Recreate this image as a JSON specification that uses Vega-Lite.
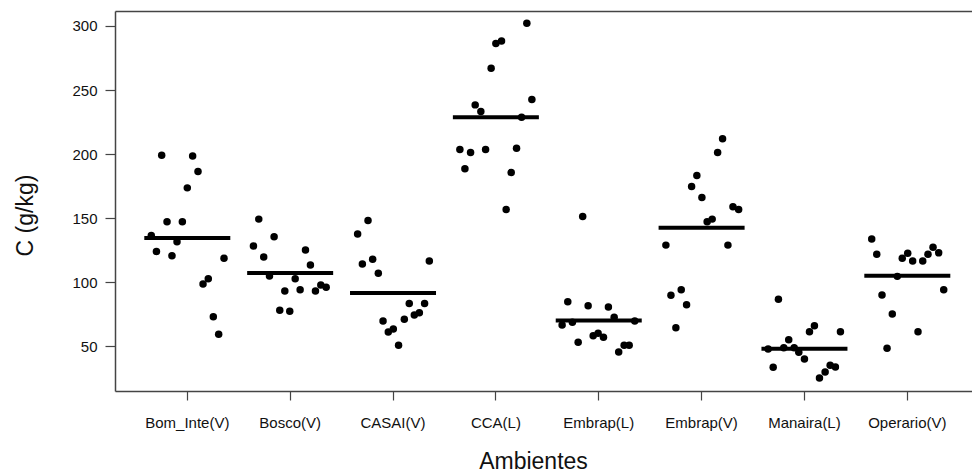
{
  "$schema": "https://vega.github.io/schema/vega-lite/v6.json",
  "autosize": {"type": "none"},
  "padding": {"left": 115, "top": 11, "right": 0, "bottom": 84},
  "width": 857,
  "height": 380,
  "background": "white",
  "config": {
    "font": "Liberation Sans",
    "view": {"stroke": null},
    "axis": {"grid": false, "domainColor": "#444", "domainWidth": 1.5, "tickColor": "#444", "tickWidth": 1.2, "labelColor": "#111", "titleColor": "#111", "titleFontWeight": "normal", "labelFontSize": 15, "titleFontSize": 23, "labelFont": "Liberation Sans", "titleFont": "Liberation Sans"}
  },
  "data": {"values": [
    {"g":"Bom_Inte(V)","v":199.1,"j":-0.249},{"g":"Bom_Inte(V)","v":198.4,"j":0.052},{"g":"Bom_Inte(V)","v":186.4,"j":0.104},{"g":"Bom_Inte(V)","v":173.6,"j":0.0},{"g":"Bom_Inte(V)","v":147.1,"j":-0.197},{"g":"Bom_Inte(V)","v":147.1,"j":-0.048},{"g":"Bom_Inte(V)","v":136.5,"j":-0.35},{"g":"Bom_Inte(V)","v":131.5,"j":-0.10},{"g":"Bom_Inte(V)","v":124.0,"j":-0.30},{"g":"Bom_Inte(V)","v":120.6,"j":-0.149},{"g":"Bom_Inte(V)","v":118.6,"j":0.357},{"g":"Bom_Inte(V)","v":102.7,"j":0.204},{"g":"Bom_Inte(V)","v":98.5,"j":0.153},{"g":"Bom_Inte(V)","v":73.0,"j":0.253},{"g":"Bom_Inte(V)","v":59.3,"j":0.305},
    {"g":"Bosco(V)","v":149.2,"j":-0.305},{"g":"Bosco(V)","v":135.4,"j":-0.156},{"g":"Bosco(V)","v":128.2,"j":-0.357},{"g":"Bosco(V)","v":125.0,"j":0.149},{"g":"Bosco(V)","v":119.6,"j":-0.257},{"g":"Bosco(V)","v":113.3,"j":0.197},{"g":"Bosco(V)","v":104.8,"j":-0.201},{"g":"Bosco(V)","v":102.7,"j":0.049},{"g":"Bosco(V)","v":97.8,"j":0.298},{"g":"Bosco(V)","v":96.0,"j":0.35},{"g":"Bosco(V)","v":93.1,"j":-0.052},{"g":"Bosco(V)","v":94.1,"j":0.097},{"g":"Bosco(V)","v":93.1,"j":0.246},{"g":"Bosco(V)","v":78.0,"j":-0.101},{"g":"Bosco(V)","v":77.2,"j":-0.004},
    {"g":"CASAI(V)","v":148.2,"j":-0.243},{"g":"CASAI(V)","v":137.5,"j":-0.344},{"g":"CASAI(V)","v":117.8,"j":-0.198},{"g":"CASAI(V)","v":114.1,"j":-0.298},{"g":"CASAI(V)","v":116.5,"j":0.353},{"g":"CASAI(V)","v":106.9,"j":-0.143},{"g":"CASAI(V)","v":83.4,"j":0.158},{"g":"CASAI(V)","v":83.4,"j":0.307},{"g":"CASAI(V)","v":76.1,"j":0.256},{"g":"CASAI(V)","v":74.3,"j":0.207},{"g":"CASAI(V)","v":71.0,"j":0.110},{"g":"CASAI(V)","v":69.7,"j":-0.097},{"g":"CASAI(V)","v":63.4,"j":0.003},{"g":"CASAI(V)","v":61.1,"j":-0.046},{"g":"CASAI(V)","v":50.7,"j":0.054},
    {"g":"CCA(L)","v":302.1,"j":0.301},{"g":"CCA(L)","v":286.3,"j":0.0},{"g":"CCA(L)","v":288.3,"j":0.055},{"g":"CCA(L)","v":267.0,"j":-0.046},{"g":"CCA(L)","v":242.6,"j":0.35},{"g":"CCA(L)","v":238.4,"j":-0.201},{"g":"CCA(L)","v":233.2,"j":-0.146},{"g":"CCA(L)","v":228.8,"j":0.25},{"g":"CCA(L)","v":203.6,"j":-0.35},{"g":"CCA(L)","v":201.2,"j":-0.246},{"g":"CCA(L)","v":203.6,"j":-0.10},{"g":"CCA(L)","v":204.6,"j":0.201},{"g":"CCA(L)","v":188.5,"j":-0.301},{"g":"CCA(L)","v":185.6,"j":0.149},{"g":"CCA(L)","v":156.8,"j":0.10},
    {"g":"Embrap(L)","v":151.3,"j":-0.156},{"g":"Embrap(L)","v":84.7,"j":-0.301},{"g":"Embrap(L)","v":81.6,"j":-0.103},{"g":"Embrap(L)","v":80.6,"j":0.094},{"g":"Embrap(L)","v":72.5,"j":0.15},{"g":"Embrap(L)","v":66.5,"j":-0.356},{"g":"Embrap(L)","v":68.6,"j":-0.256},{"g":"Embrap(L)","v":69.7,"j":0.35},{"g":"Embrap(L)","v":58.2,"j":-0.054},{"g":"Embrap(L)","v":60.1,"j":-0.006},{"g":"Embrap(L)","v":57.0,"j":0.046},{"g":"Embrap(L)","v":53.0,"j":-0.2},{"g":"Embrap(L)","v":50.7,"j":0.247},{"g":"Embrap(L)","v":50.7,"j":0.296},{"g":"Embrap(L)","v":45.5,"j":0.194},
    {"g":"Embrap(V)","v":211.9,"j":0.204},{"g":"Embrap(V)","v":201.2,"j":0.156},{"g":"Embrap(V)","v":183.3,"j":-0.046},{"g":"Embrap(V)","v":174.7,"j":-0.097},{"g":"Embrap(V)","v":166.1,"j":0.003},{"g":"Embrap(V)","v":158.8,"j":0.305},{"g":"Embrap(V)","v":156.8,"j":0.36},{"g":"Embrap(V)","v":149.2,"j":0.103},{"g":"Embrap(V)","v":147.1,"j":0.054},{"g":"Embrap(V)","v":128.9,"j":-0.347},{"g":"Embrap(V)","v":128.9,"j":0.256},{"g":"Embrap(V)","v":94.1,"j":-0.198},{"g":"Embrap(V)","v":89.7,"j":-0.298},{"g":"Embrap(V)","v":82.4,"j":-0.146},{"g":"Embrap(V)","v":64.4,"j":-0.25},
    {"g":"Manaira(L)","v":86.6,"j":-0.253},{"g":"Manaira(L)","v":66.0,"j":0.097},{"g":"Manaira(L)","v":61.3,"j":0.049},{"g":"Manaira(L)","v":61.3,"j":0.35},{"g":"Manaira(L)","v":55.1,"j":-0.153},{"g":"Manaira(L)","v":48.8,"j":-0.201},{"g":"Manaira(L)","v":47.8,"j":-0.353},{"g":"Manaira(L)","v":48.8,"j":-0.10},{"g":"Manaira(L)","v":45.2,"j":-0.055},{"g":"Manaira(L)","v":40.0,"j":0.0},{"g":"Manaira(L)","v":33.5,"j":-0.304},{"g":"Manaira(L)","v":35.1,"j":0.25},{"g":"Manaira(L)","v":33.8,"j":0.301},{"g":"Manaira(L)","v":29.9,"j":0.201},{"g":"Manaira(L)","v":25.2,"j":0.146},
    {"g":"Operario(V)","v":133.6,"j":-0.346},{"g":"Operario(V)","v":121.7,"j":-0.297},{"g":"Operario(V)","v":122.5,"j":0.004},{"g":"Operario(V)","v":118.6,"j":-0.049},{"g":"Operario(V)","v":116.5,"j":0.052},{"g":"Operario(V)","v":116.5,"j":0.15},{"g":"Operario(V)","v":121.7,"j":0.201},{"g":"Operario(V)","v":127.2,"j":0.25},{"g":"Operario(V)","v":122.9,"j":0.305},{"g":"Operario(V)","v":104.5,"j":-0.097},{"g":"Operario(V)","v":94.1,"j":0.354},{"g":"Operario(V)","v":90.0,"j":-0.246},{"g":"Operario(V)","v":75.1,"j":-0.146},{"g":"Operario(V)","v":61.3,"j":0.104},{"g":"Operario(V)","v":48.4,"j":-0.197}
  ]},
  "layer": [
    {
      "mark": {"type": "circle", "size": 56, "color": "black", "opacity": 1},
      "encoding": {
        "x": {"field": "g", "type": "nominal", "sort": null,
          "scale": {"paddingInner": 0, "paddingOuter": 0.1659, "align": 0.6115},
          "axis": {"orient": "bottom", "labelAngle": 0, "tickSize": 9, "labelPadding": 15, "labelFontSize": 15, "titleFontSize": 23, "title": "Ambientes", "titleX": 418, "titleY": 77, "titleBaseline": "alphabetic", "titleAnchor": null, "titleAlign": "center"}},
        "xOffset": {"field": "j", "type": "quantitative", "scale": {"domain": [-0.5, 0.5], "range": [0, 102.86]}},
        "y": {"field": "v", "type": "quantitative", "scale": {"domain": [15.0, 311.7], "nice": false, "zero": false},
          "axis": {"values": [50, 100, 150, 200, 250, 300], "tickSize": 10, "labelPadding": 8, "labelFontSize": 15, "titleFontSize": 23, "title": "C (g/kg)", "titleX": -90, "titleY": 204, "titleAngle": -90, "titleBaseline": "middle", "titleAlign": "center", "titleAnchor": null}}
      }
    },
    {
      "mark": {"type": "tick", "color": "black", "size": 86, "thickness": 4, "orient": "horizontal"},
      "encoding": {
        "x": {"field": "g", "type": "nominal", "sort": null,
          "axis": {"orient": "top", "labels": false, "ticks": false, "title": null, "domain": true}},
        "y": {"field": "v", "type": "quantitative", "aggregate": "mean"}
      }
    }
  ],
  "resolve": {"axis": {"x": "independent"}}
}
